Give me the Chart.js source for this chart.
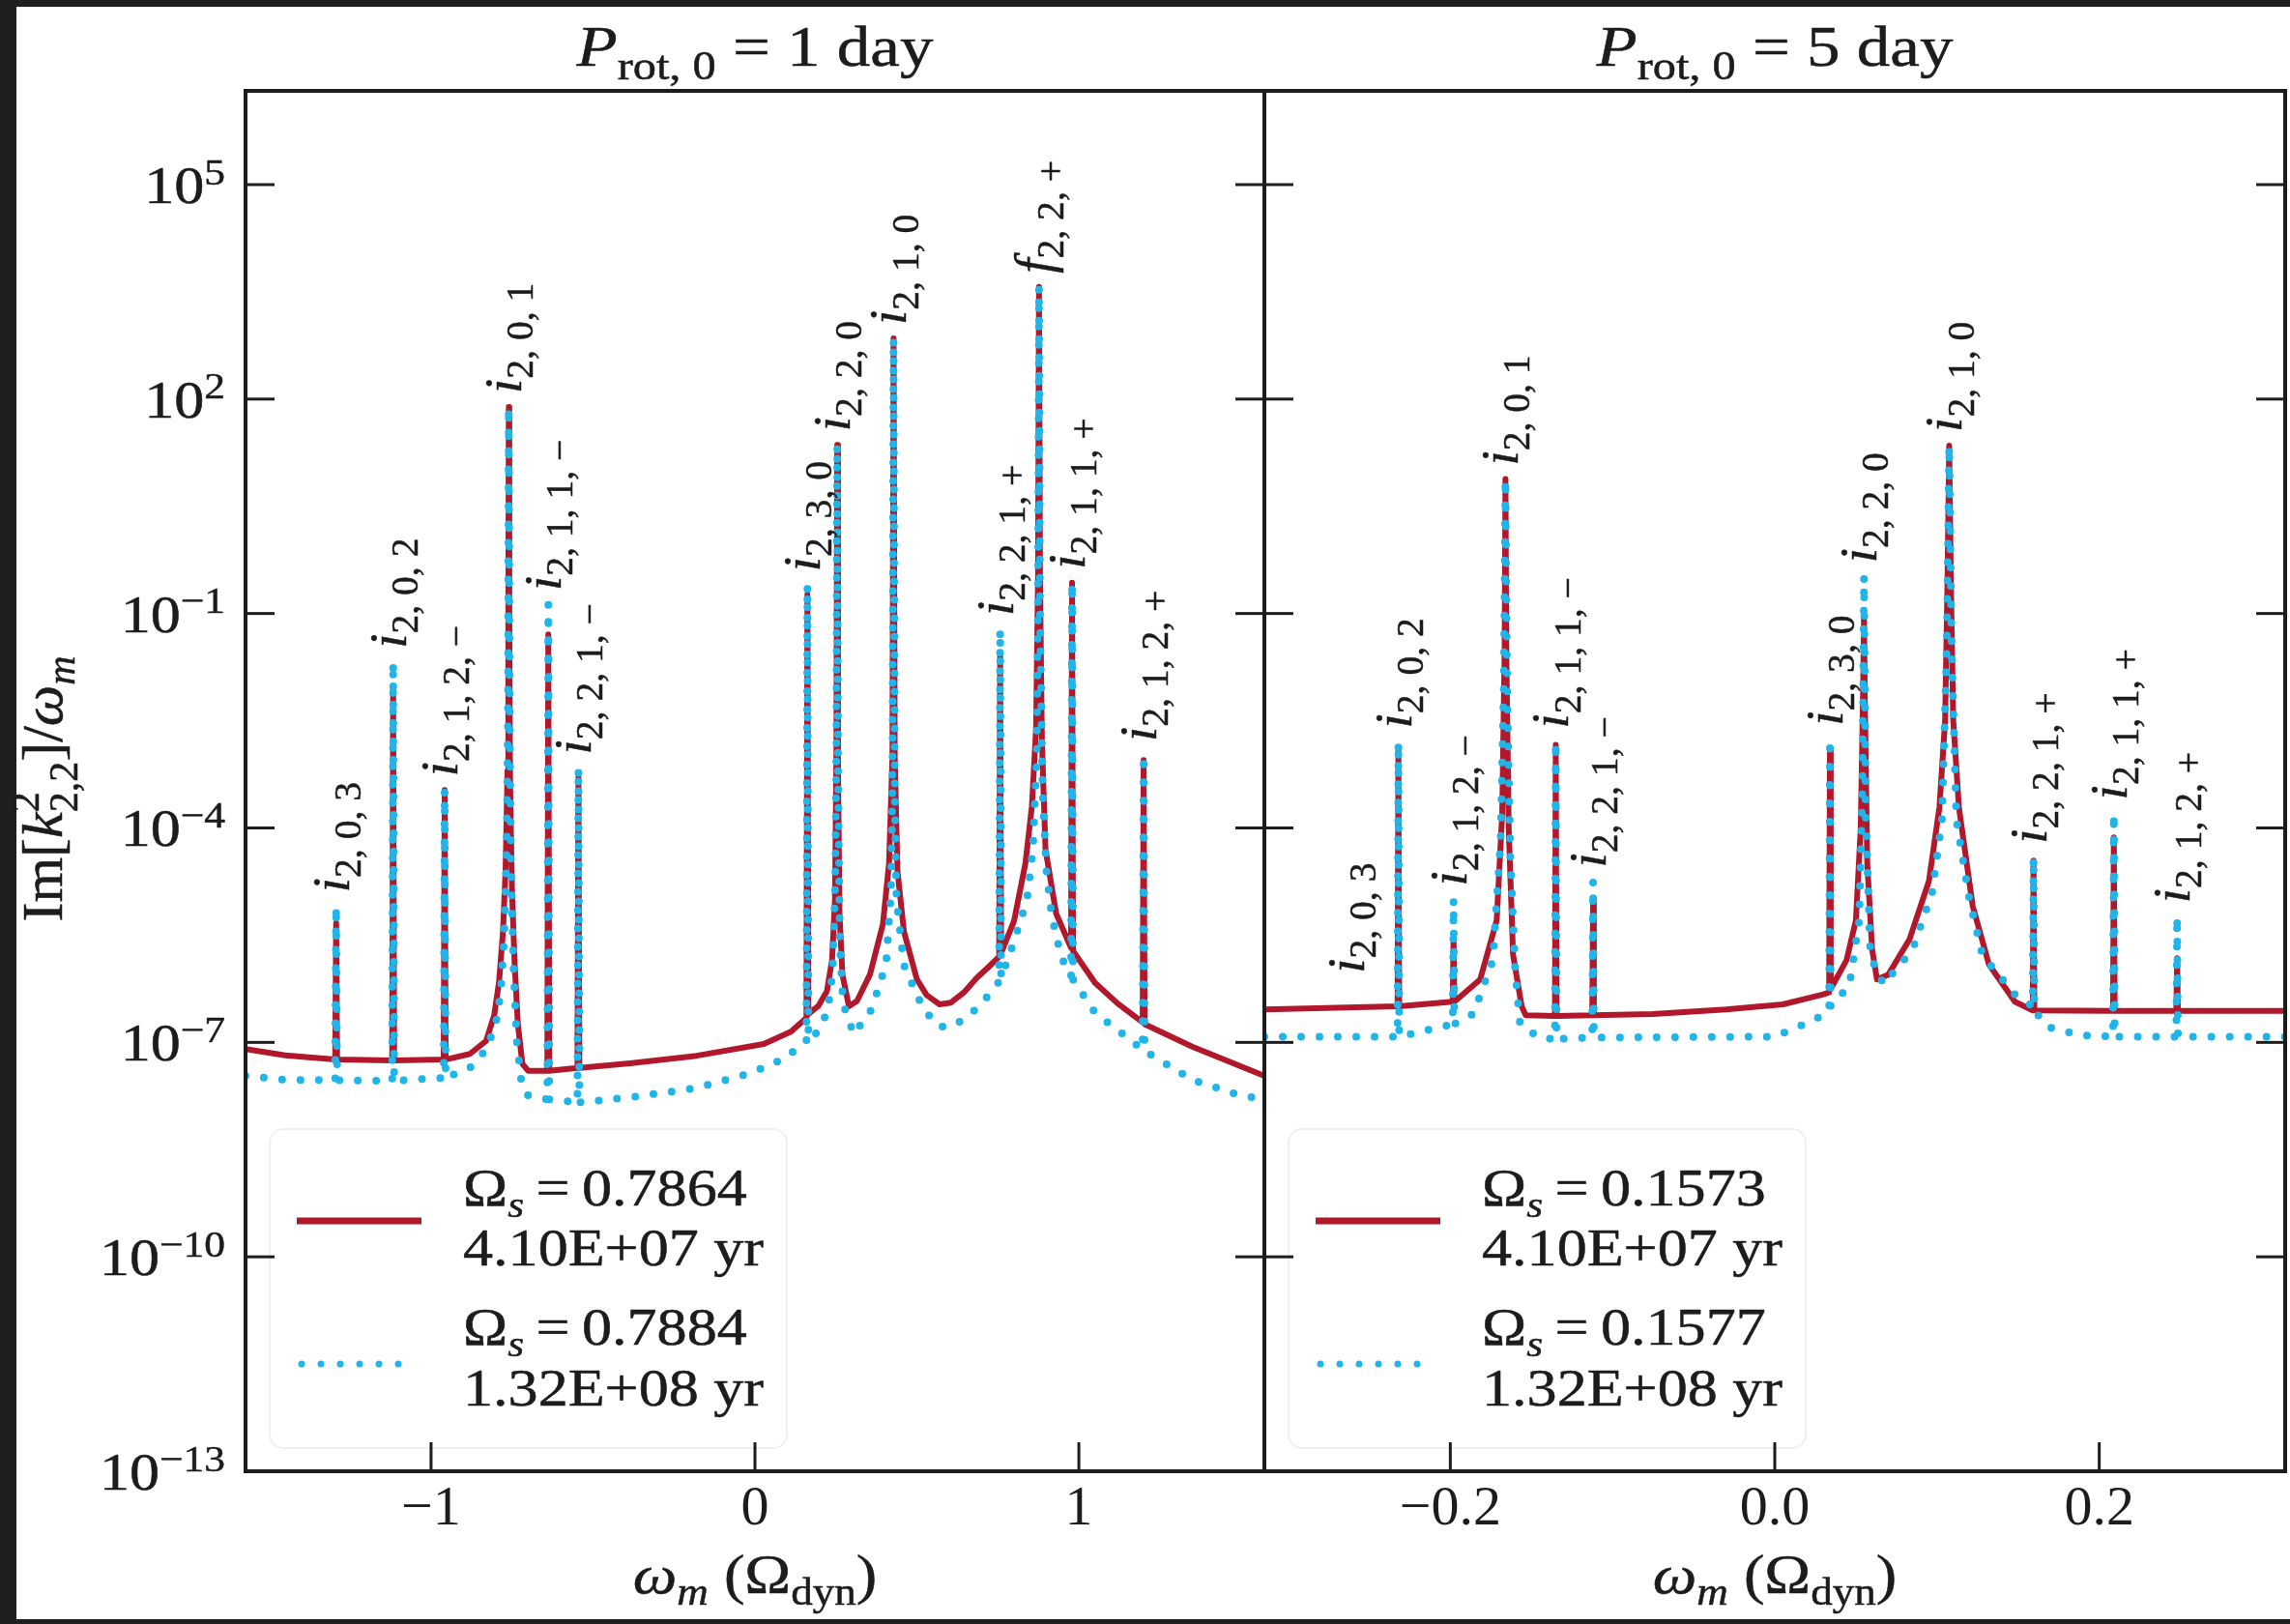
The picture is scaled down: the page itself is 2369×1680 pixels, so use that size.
<!DOCTYPE html>
<html><head><meta charset="utf-8">
<script src="https://cdn.jsdelivr.net/npm/chart.js@4.4.1/dist/chart.umd.min.js"></script>
<style>
html,body{margin:0;padding:0;background:#1f1f1f;width:2369px;height:1680px;overflow:hidden;}
#paper{position:absolute;left:17px;top:7px;width:2352px;height:1668px;background:#fff;}
canvas{position:absolute;top:0;}
#cL{left:0px;}
#cR{left:1300px;}
</style></head><body>
<div id="paper"></div>
<canvas id="cL" width="1330" height="1680"></canvas>
<canvas id="cR" width="1069" height="1680"></canvas>
<script>
// ---------------- data ----------------
// Left panel: P_rot,0 = 1 day
const leftRedX = [-1.5728,-1.45,-1.296,-1.293,-1.290,-1.120,-1.117,-1.114,-0.961,-0.958,-0.955,
  -0.880,-0.830,-0.805,-0.790,-0.778,-0.770,-0.764,-0.7615,-0.760,-0.7585,-0.756,-0.750,-0.742,-0.732,-0.718,-0.700,
  -0.641,-0.638,-0.635,-0.548,-0.545,-0.542,-0.386,-0.180,0.027,0.111,0.159,0.162,0.165,
  0.195,0.222,0.238,0.247,0.2515,0.254,0.2565,0.261,0.270,0.290,0.315,0.355,0.395,0.414,0.4245,0.428,0.4315,0.440,0.460,
  0.500,0.530,0.570,0.605,0.645,0.685,0.720,0.754,0.757,0.760,0.800,0.835,0.855,0.868,0.874,0.877,0.880,0.886,0.897,0.930,
  0.976,0.979,0.982,1.05,1.12,1.197,1.200,1.203,1.35,1.5728];
const leftRedY = [8.1e-8,6.6e-8,5.75e-8,4.7e-6,5.75e-8,5.6e-8,9.5e-3,5.6e-8,5.75e-8,3.4e-4,5.75e-8,
  6.9e-8,1.05e-7,2.4e-7,7.1e-7,3.55e-6,2.5e-5,6.3e-4,0.1,77.6,0.1,4.0e-4,1.26e-5,1.26e-6,1.8e-7,5.0e-8,4.0e-8,
  4.0e-8,5.1e-2,4.0e-8,4.4e-8,5.1e-4,4.4e-8,5.1e-8,6.5e-8,9.5e-8,1.41e-7,2.2e-7,0.186,2.5e-7,
  3.2e-7,5.2e-7,1.41e-6,1.0e-5,1.0e-3,22.9,6.3e-4,6.3e-6,8.9e-7,3.2e-7,3.8e-7,8.9e-7,4.5e-6,3.2e-5,1.0e-3,708,1.0e-3,2.5e-5,3.55e-6,
  7.6e-7,4.6e-7,3.4e-7,3.6e-7,5.0e-7,8.0e-7,1.12e-6,1.58e-6,2.7e-2,1.78e-6,5.0e-6,3.2e-5,2.0e-4,2.5e-3,0.316,3715,0.316,1.6e-3,5.0e-5,6.3e-6,
  2.1e-6,0.27,1.9e-6,6.8e-7,3.5e-7,1.9e-7,8.9e-4,1.8e-7,8.7e-8,3.4e-8];
const leftCyanX = [-1.5728,-1.45,-1.296,-1.293,-1.290,-1.120,-1.117,-1.114,-0.961,-0.958,-0.955,
  -0.880,-0.830,-0.800,-0.785,-0.775,-0.767,-0.7625,-0.760,-0.7575,-0.753,-0.745,-0.735,-0.720,-0.700,
  -0.641,-0.638,-0.635,-0.548,-0.545,-0.542,-0.386,-0.180,-0.015,0.090,0.159,0.162,0.165,
  0.195,0.225,0.240,0.248,0.2515,0.254,0.2565,0.262,0.272,0.305,0.360,0.405,0.420,0.4245,0.428,0.4315,0.437,0.460,
  0.520,0.570,0.605,0.645,0.685,0.720,0.754,0.757,0.760,0.800,0.840,0.858,0.870,0.874,0.877,0.880,0.888,0.900,0.916,0.945,
  0.976,0.979,0.982,1.05,1.15,1.197,1.200,1.203,1.35,1.50,1.5728];
const leftCyanY = [3.4e-8,3.0e-8,2.95e-8,8.1e-6,2.95e-8,2.9e-8,2.1e-2,2.9e-8,3.2e-8,3.4e-4,3.2e-8,
  4.4e-8,7.9e-8,1.8e-7,5.0e-7,2.5e-6,4.0e-5,3.2e-3,77.6,3.2e-3,2.5e-5,1.0e-6,1.0e-7,2.5e-8,1.8e-8,
  1.6e-8,0.135,1.6e-8,1.45e-8,6.9e-4,1.45e-8,1.7e-8,2.3e-8,3.7e-8,5.9e-8,1.05e-7,0.25,1.12e-7,
  1.41e-7,2.8e-7,1.0e-6,1.6e-5,1.0e-3,22.9,6.3e-4,2.5e-6,3.5e-7,1.3e-7,2.9e-7,1.26e-6,1.26e-5,3.2e-4,708,3.2e-4,1.0e-5,1.2e-6,
  2.9e-7,1.66e-7,1.65e-7,2.1e-7,3.0e-7,4.5e-7,7.1e-7,6.0e-2,7.9e-7,2.6e-6,1.0e-5,5.0e-5,1.0e-3,0.1,3715,0.1,3.2e-4,2.5e-5,6.0e-6,1.58e-6,
  8.3e-7,0.27,7.6e-7,2.6e-7,1.17e-7,7.9e-8,1.05e-3,7.6e-8,3.0e-8,1.8e-8,1.6e-8];

// Right panel: P_rot,0 = 5 day
const rightRedX = [-0.3146,-0.2325,-0.232,-0.2315,-0.1985,-0.198,-0.1975,-0.1816,-0.1714,-0.168,-0.1665,-0.166,-0.1655,-0.164,-0.1613,-0.156,-0.1535,
  -0.1355,-0.135,-0.1345,-0.1125,-0.112,-0.1115,-0.075,-0.030,0.005,0.030,0.0335,0.034,0.0345,0.0442,0.050,0.053,0.0545,0.055,0.0555,0.057,0.060,0.063,
  0.070,0.083,0.095,0.1015,0.105,0.1065,0.1075,0.1085,0.110,0.1135,0.122,0.132,0.148,0.159,0.1595,0.160,0.2085,0.209,0.2095,0.2475,0.248,0.2485,0.3146];
const rightRedY = [2.9e-7,3.2e-7,1.3e-3,3.2e-7,3.7e-7,2.9e-6,3.7e-7,7.6e-7,5.1e-6,1.6e-4,3.2e-2,7.6,3.2e-2,1.0e-4,1.66e-6,3.2e-7,2.4e-7,
  2.35e-7,1.45e-3,2.35e-7,2.4e-7,9.5e-6,2.4e-7,2.5e-7,2.9e-7,3.4e-7,4.7e-7,5.0e-7,1.3e-3,5.6e-7,1.41e-6,5.1e-6,1.0e-4,1.0e-2,9.3e-2,6.3e-3,3.2e-5,2.0e-6,7.6e-7,
  8.9e-7,2.75e-6,1.8e-5,1.95e-4,3.2e-3,0.32,22.4,0.32,3.2e-3,1.95e-4,8.1e-6,1.23e-6,3.7e-7,2.8e-7,3.5e-5,2.8e-7,2.75e-7,7.4e-5,2.75e-7,2.75e-7,1.5e-6,2.75e-7,2.75e-7];
const rightCyanX = [-0.3146,-0.2325,-0.232,-0.2315,-0.1985,-0.198,-0.1975,-0.1858,-0.1738,-0.169,-0.167,-0.166,-0.165,-0.163,-0.160,-0.157,-0.145,
  -0.1355,-0.135,-0.1345,-0.1125,-0.112,-0.1115,0.0,0.025,0.0335,0.034,0.0345,0.046,0.052,0.054,0.055,0.056,0.059,0.067,
  0.085,0.097,0.103,0.106,0.1075,0.109,0.112,0.120,0.128,0.148,0.159,0.1595,0.160,0.168,0.188,0.2085,0.209,0.2095,0.2475,0.248,0.2485,0.3146];
const rightCyanY = [1.2e-7,1.2e-7,1.6e-3,1.2e-7,1.8e-7,1.0e-5,1.8e-7,2.5e-7,1.41e-6,6.3e-5,1.0e-2,7.6,1.0e-2,4.0e-5,1.0e-6,1.8e-7,1.15e-7,
  1.12e-7,1.6e-3,1.12e-7,1.17e-7,1.8e-5,1.17e-7,1.2e-7,2.1e-7,2.8e-7,1.74e-3,3.2e-7,6.3e-7,5.0e-6,3.2e-4,0.33,1.6e-4,1.58e-6,6.5e-7,
  2.0e-6,1.26e-5,1.26e-4,3.2e-2,22.4,3.2e-2,1.26e-4,1.0e-5,1.66e-6,4.7e-7,3.2e-7,3.9e-5,2.8e-7,1.66e-7,1.26e-7,1.2e-7,1.6e-4,1.2e-7,1.2e-7,5.75e-6,1.2e-7,1.2e-7];

// Mode labels (symbol, subscript, position, top of the peak)
const leftPeakSym = ['i','i','i','i','i','i','i','i','i','i','f','i','i'];
const leftPeakSub = ['2, 0, 3','2, 0, 2','2, 1, 2, \u2212','2, 0, 1','2, 1, 1, \u2212','2, 2, 1, \u2212','2, 3, 0','2, 2, 0','2, 1, 0','2, 2, 1, +','2, 2, +','2, 1, 1, +','2, 1, 2, +'];
const leftPeakX = [-1.293,-1.117,-0.958,-0.760,-0.638,-0.545,0.162,0.254,0.428,0.757,0.877,0.979,1.200];
const leftPeakTop = [8.1e-6,2.1e-2,3.4e-4,77.6,0.135,6.9e-4,0.25,22.9,708,6.0e-2,3715,0.27,1.05e-3];
const rightPeakSym = ['i','i','i','i','i','i','i','i','i','i','i','i'];
const rightPeakSub = ['2, 0, 3','2, 0, 2','2, 1, 2, \u2212','2, 0, 1','2, 1, 1, \u2212','2, 2, 1, \u2212','2, 3, 0','2, 2, 0','2, 1, 0','2, 2, 1, +','2, 1, 1, +','2, 1, 2, +'];
const rightPeakX = [-0.261,-0.232,-0.198,-0.166,-0.135,-0.112,0.034,0.055,0.1075,0.1595,0.209,0.248];
const rightPeakTop = [6.0e-7,1.6e-3,1.0e-5,7.6,1.6e-3,1.8e-5,1.74e-3,0.33,22.4,3.9e-5,1.6e-4,5.75e-6];

// Axes
const yTickValues = [1e5,1e2,1e-1,1e-4,1e-7,1e-10,1e-13];
const yTickExp = ['5','2','\u22121','\u22124','\u22127','\u221210','\u221213'];
const yMin = 1e-13, yMax = 2.05e6;
const leftXRange = [-1.5728, 1.5728];
const leftXTicks = [-1, 0, 1];
const leftXTickLabels = ['\u22121','0','1'];
const rightXRange = [-0.3146, 0.3146];
const rightXTicks = [-0.2, 0, 0.2];
const rightXTickLabels = ['\u22120.2','0.0','0.2'];

// Legends
const leftLegend = [['0.7864','4.10E+07 yr'],['0.7884','1.32E+08 yr']];
const rightLegend = [['0.1573','4.10E+07 yr'],['0.1577','1.32E+08 yr']];
const leftTitleValue = '1 day', rightTitleValue = '5 day';

// ---------------- drawing helpers ----------------
const FONT = '"Liberation Serif"';
const INK = '#1c1c1c';
const RED = '#b2182b';
const CYAN = '#1fb5ea';
const SX = 1.15; // horizontal text stretch seen in the reference
const WEIGHT = 0.5; // slight extra stroke to mimic heavier text

function setFont(ctx, size, italic){ ctx.font = (italic?'italic ':'') + size.toFixed(1) + 'px ' + FONT; }
function partWidth(ctx, p, base){
  if (p.stack){ setFont(ctx, base*0.7, false); return Math.max(ctx.measureText(p.sup).width, ctx.measureText(p.sub).width); }
  setFont(ctx, base*(p.s||1), !!p.i); return ctx.measureText(p.t).width + (p.gap||0)*base;
}
function runsWidth(ctx, parts, base){ let w=0; for (const p of parts) w += partWidth(ctx,p,base); return w; }
function txt(ctx, t, x, y){ ctx.fillText(t, x, y); if (WEIGHT>0){ ctx.strokeText(t, x, y); } }
function drawRuns(ctx, parts, x, y, base, align, sx){
  sx = sx||1;
  const w = runsWidth(ctx, parts, base)*sx;
  let x0 = x; if (align==='center') x0 = x - w/2; else if (align==='right') x0 = x - w;
  ctx.save(); ctx.translate(x0, y); ctx.scale(sx, 1);
  ctx.strokeStyle = ctx.fillStyle; ctx.lineWidth = WEIGHT; ctx.lineJoin = 'round';
  let cx = 0;
  for (const p of parts){
    if (p.stack){
      setFont(ctx, base*0.7, false);
      txt(ctx, p.sup, cx, -0.40*base);
      txt(ctx, p.sub, cx, 0.26*base);
    } else {
      setFont(ctx, base*(p.s||1), !!p.i);
      txt(ctx, p.t, cx, (p.dy||0)*base);
    }
    cx += partWidth(ctx,p,base);
  }
  ctx.restore();
  return w;
}
function seg(ctx,x1,y1,x2,y2){ ctx.beginPath(); ctx.moveTo(x1,y1); ctx.lineTo(x2,y2); ctx.stroke(); }

function decoPlugin(P){
  return {
    id: 'deco'+P.id,
    afterDatasetsDraw(chart){
      const ctx = chart.ctx, a = chart.chartArea, xs = chart.scales.x, ys = chart.scales.y;
      ctx.save();
      ctx.fillStyle = INK; ctx.textBaseline = 'alphabetic'; ctx.textAlign = 'left';
      // mode labels (rotated)
      for (let k=0;k<P.peakX.length;k++){
        const px = xs.getPixelForValue(P.peakX[k]);
        const py = ys.getPixelForValue(P.peakTop[k]) - 14;
        ctx.save(); ctx.translate(px, py); ctx.rotate(-Math.PI/2);
        drawRuns(ctx, [{t:P.peakSym[k], i:1},{t:P.peakSub[k], s:0.72, dy:0.22}], 0, 13, 55, 'left', 1);
        ctx.restore();
      }
      // legend
      const L = a.left;
      ctx.save();
      ctx.fillStyle = 'rgba(255,255,255,0.85)'; ctx.strokeStyle = '#f0f0f0'; ctx.lineWidth = 2;
      ctx.beginPath(); ctx.roundRect(L+25, 1168, 535, 330, 14); ctx.fill(); ctx.stroke();
      ctx.restore();
      ctx.fillStyle = INK;
      ctx.strokeStyle = RED; ctx.lineWidth = 7; ctx.lineCap = 'butt';
      seg(ctx, L+53, 1263, L+182, 1263);
      ctx.save(); ctx.strokeStyle = CYAN; ctx.lineWidth = 7; ctx.lineCap = 'round'; ctx.setLineDash([0,20]);
      seg(ctx, L+58, 1411, L+162, 1411); ctx.restore();
      const ent = P.legend;
      const EQ = '\u2009=\u2009';
      drawRuns(ctx, [{t:'\u03A9'},{t:'s', i:1, s:0.7, dy:0.22},{t:EQ+ent[0][0]}], L+225, 1247, 54, 'left', SX);
      drawRuns(ctx, [{t:ent[0][1]}], L+225, 1309, 54, 'left', SX);
      drawRuns(ctx, [{t:'\u03A9'},{t:'s', i:1, s:0.7, dy:0.22},{t:EQ+ent[1][0]}], L+225, 1391, 54, 'left', SX);
      drawRuns(ctx, [{t:ent[1][1]}], L+225, 1454, 54, 'left', SX);
      // frame
      ctx.strokeStyle = INK; ctx.lineWidth = 4;
      ctx.strokeRect(a.left, a.top, a.right-a.left, a.bottom-a.top);
      // inward ticks
      ctx.lineWidth = 3;
      for (const v of yTickValues){ const py = ys.getPixelForValue(v); seg(ctx,a.left,py,a.left+30,py); seg(ctx,a.right-30,py,a.right,py); }
      for (const v of P.xTicks){ const px = xs.getPixelForValue(v); seg(ctx,px,a.bottom,px,a.bottom-30); }
      // y tick labels + y title (left panel only)
      if (P.yLabels){
        for (let k=0;k<yTickValues.length;k++){
          const py = ys.getPixelForValue(yTickValues[k]);
          drawRuns(ctx, [{t:'10'},{t:yTickExp[k], s:0.7, dy:-0.36}], a.left-21, py+19, 54, 'right', SX);
        }
        ctx.save(); ctx.translate(50, (a.top+a.bottom)/2 + 8); ctx.rotate(-Math.PI/2);
        drawRuns(ctx, [{t:'Im['},{t:'k', i:1},{stack:1, sup:'2', sub:'2,2'},{t:']/'},{t:'\u03C9', i:1},{t:'m', i:1, s:0.7, dy:0.22}], 0, 14, 60, 'center', 1);
        ctx.restore();
      }
      // x title
      drawRuns(ctx, [{t:'\u03C9', i:1},{t:'m', i:1, s:0.7, dy:0.22},{t:' (\u03A9'},{t:'dyn', s:0.7, dy:0.22},{t:')'}], (a.left+a.right)/2, 1648, 56, 'center', SX);
      // panel title
      drawRuns(ctx, [{t:'P', i:1},{t:'rot, 0', s:0.7, dy:0.24},{t:' = '+P.title}], (a.left+a.right)/2, 68, 60, 'center', SX);
      ctx.restore();
    }
  };
}

function pts(xs, ys){ return xs.map((x,i)=>({x:x, y:ys[i]})); }

function makeChart(canvasId, P){
  return new Chart(document.getElementById(canvasId), {
    type: 'line',
    data: { datasets: [
      { label: 'cyan', data: pts(P.cyanX, P.cyanY), borderColor: CYAN, borderWidth: 8, borderDash: [0,19], borderCapStyle: 'round', borderJoinStyle: 'round', pointRadius: 0, tension: 0, fill: false, order: 1 },
      { label: 'red', data: pts(P.redX, P.redY), borderColor: RED, borderWidth: 6, borderJoinStyle: 'round', borderCapStyle: 'round', pointRadius: 0, tension: 0, fill: false, order: 2 }
    ]},
    options: {
      responsive: false, animation: false, devicePixelRatio: 1, events: [],
      layout: { padding: { left: 0, right: P.padRight, top: 94, bottom: 0 } },
      plugins: { legend: { display: false }, title: { display: false }, tooltip: { enabled: false } },
      scales: {
        x: { type: 'linear', min: P.xRange[0], max: P.xRange[1], bounds: 'data',
             grid: { display: false, drawTicks: false }, border: { display: false },
             afterBuildTicks: s => { s.ticks = P.xTicks.map(v => ({value: v})); },
             afterFit: s => { s.height = 158; },
             ticks: { display: true, autoSkip: false, maxRotation: 0, padding: 5, color: INK,
                      font: { family: 'Liberation Serif', size: 58 },
                      callback: (v, i) => P.xTickLabels[i] } },
        y: { type: 'logarithmic', min: yMin, max: yMax,
             grid: { display: false, drawTicks: false }, border: { display: false },
             afterBuildTicks: s => { s.ticks = yTickValues.map(v => ({value: v})); },
             afterFit: s => { s.width = P.yWidth; },
             ticks: { display: false } }
      }
    },
    plugins: [decoPlugin(P)]
  });
}

makeChart('cL', { id:'L', redX:leftRedX, redY:leftRedY, cyanX:leftCyanX, cyanY:leftCyanY,
  xRange:leftXRange, xTicks:leftXTicks, xTickLabels:leftXTickLabels, padRight:22, yWidth:254, yLabels:true,
  peakSym:leftPeakSym, peakSub:leftPeakSub, peakX:leftPeakX, peakTop:leftPeakTop, legend:leftLegend, title:leftTitleValue });
makeChart('cR', { id:'R', redX:rightRedX, redY:rightRedY, cyanX:rightCyanX, cyanY:rightCyanY,
  xRange:rightXRange, xTicks:rightXTicks, xTickLabels:rightXTickLabels, padRight:5, yWidth:8, yLabels:false,
  peakSym:rightPeakSym, peakSub:rightPeakSub, peakX:rightPeakX, peakTop:rightPeakTop, legend:rightLegend, title:rightTitleValue });
</script></body></html>
